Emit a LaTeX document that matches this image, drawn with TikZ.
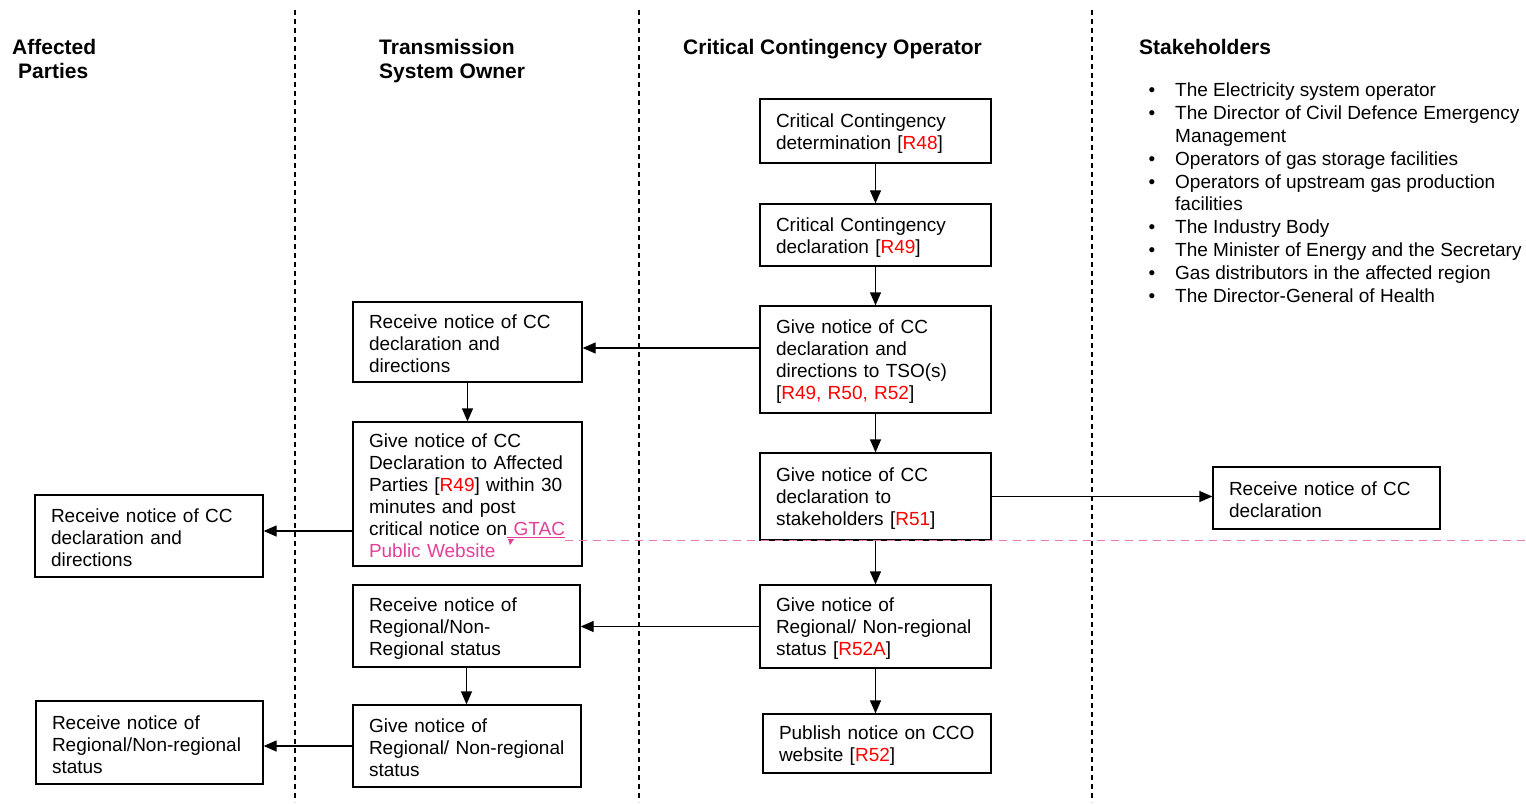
\documentclass[tikz,border=0pt]{standalone}
\usepackage{fontspec}
\setmainfont{Liberation Sans}
\usetikzlibrary{arrows.meta,calc}
\definecolor{refred}{RGB}{255,0,0}
\definecolor{gtac}{RGB}{228,64,152}
\definecolor{gtacline}{RGB}{232,120,180}
\newcommand{\rr}[1]{\textcolor{refred}{#1}}
\begin{document}
\begin{tikzpicture}[x=1pt,y=-1pt,
  box/.style={draw, line width=1.3pt, inner xsep=16pt, inner ysep=0pt, align=left, font=\fontsize{19}{22}\selectfont,
    execute at begin node={\rule{0pt}{18pt}}},
  arr/.style={line width=1.3pt, -{Triangle[length=13pt,width=11pt]}},
  lane/.style={line width=1.1pt, dash pattern=on 5pt off 4pt},
  hdr/.style={font=\fontsize{21}{24}\selectfont\bfseries, inner sep=0pt, anchor=base west}]
\useasboundingbox (0,0) rectangle (1526,805);

% lane separators
\draw[lane] (295,10) -- (295,802);
\draw[lane] (639,10) -- (639,802);
\draw[lane] (1092,10) -- (1092,802);

% headers
\node[hdr] (h1) at (12,54.5) {Affected};
\node[hdr] (h1b) at (18,78.5) {Parties};
\node[hdr] (h2) at (379,54.5) {Transmission};
\node[hdr] (h2b) at (379,78.5) {System Owner};
\node[hdr] (h3) at (683,54.5) {Critical Contingency Operator};
\node[hdr] (h4) at (1139,54.5) {Stakeholders};

% stakeholders list
\node[anchor=north west, inner sep=0pt, align=left, font=\fontsize{19}{22.9}\selectfont] (list) at (1175,82.5)
{\llap{\textbullet\hspace{20pt}}The Electricity system operator\\
 \llap{\textbullet\hspace{20pt}}The Director of Civil Defence Emergency\\
 Management\\
 \llap{\textbullet\hspace{20pt}}Operators of gas storage facilities\\
 \llap{\textbullet\hspace{20pt}}Operators of upstream gas production\\
 facilities\\
 \llap{\textbullet\hspace{20pt}}The Industry Body\\
 \llap{\textbullet\hspace{20pt}}The Minister of Energy and the Secretary\\
 \llap{\textbullet\hspace{20pt}}Gas distributors in the affected region\\
 \llap{\textbullet\hspace{20pt}}The Director-General of Health};

% CCO column
\node[box, text width=199pt, minimum height=64pt] (b1) at (875.5,131) {Critical Contingency\\determination [\rr{R48}]};
\node[box, text width=199pt, minimum height=62pt] (b2) at (875.5,235) {Critical Contingency\\declaration [\rr{R49}]};
\node[box, text width=199pt, minimum height=107pt] (b3) at (875.5,359.5) {Give notice of CC\\declaration and\\directions to TSO(s)\\{}[\rr{R49, R50, R52}]};
\node[box, text width=199pt, minimum height=87pt] (b4) at (875.5,496.5) {Give notice of CC\\declaration to\\stakeholders [\rr{R51}]};
\node[box, text width=199pt, minimum height=83pt] (b5) at (875.5,626.5) {Give notice of\\Regional/ Non-regional\\status [\rr{R52A}]};
\node[box, text width=196pt, minimum height=59pt] (b6) at (877,743.5) {Publish notice on CCO\\website [\rr{R52}]};

% TSO column
\node[box, text width=197pt, minimum height=80pt] (t1) at (467.5,342) {Receive notice of CC\\declaration and\\directions};
\node[box, text width=197pt, minimum height=144pt] (t2) at (467.5,494) {Give notice of CC\\Declaration to Affected\\Parties [\rr{R49}] within 30\\minutes and post\\critical notice on\textcolor{gtac}{\underline{\ GTAC}}\\\textcolor{gtac}{Public Website}};
\node[box, text width=195pt, minimum height=82pt] (t3) at (466.5,626) {Receive notice of\\Regional/Non-\\Regional status};
\node[box, text width=196pt, minimum height=82pt] (t4) at (467,746) {Give notice of\\Regional/ Non-regional\\status};

% Affected parties column
\node[box, text width=196pt, minimum height=82pt] (a1) at (149,536) {Receive notice of CC\\declaration and\\directions};
\node[box, text width=195pt, minimum height=83pt] (a2) at (149.5,742.5) {Receive notice of\\Regional/Non-regional\\status};

% Stakeholder box
\node[box, text width=195pt, minimum height=62pt] (s1) at (1326.5,498) {Receive notice of CC\\declaration};

% comment anchor line
\coordinate (gt) at (565,540);
\draw[gtacline, line width=1pt, dash pattern=on 8pt off 6pt] (gt) -- (1526,540);
\fill[gtac] (508,539) -- (514,539) -- (510,545) -- cycle;

% vertical arrows
\draw[arr] (b1.south) -- (b2.north);
\draw[arr] (b2.south) -- (b3.north);
\draw[arr] (b3.south) -- (b4.north);
\draw[arr] (b4.south) -- (b5.north);
\draw[arr] (b5.south) -- (b5.south |- b6.north);
\draw[arr] (t1.south) -- (t2.north);
\draw[arr] (t3.south) -- (t3.south |- t4.north);

% horizontal arrows
\coordinate (p1) at ([yshift=11.5pt]b3.west);
\draw[arr] (p1) -- (p1 -| t1.east);
\coordinate (p2) at ([yshift=5pt]a1.east);
\draw[arr] (p2 -| t2.west) -- (p2);
\draw[arr] (b4.east) -- (b4.east -| s1.west);
\draw[arr] (b5.west) -- (b5.west -| t3.east);
\draw[arr] (t4.west) -- (t4.west -| a2.east);
\end{tikzpicture}
\end{document}
